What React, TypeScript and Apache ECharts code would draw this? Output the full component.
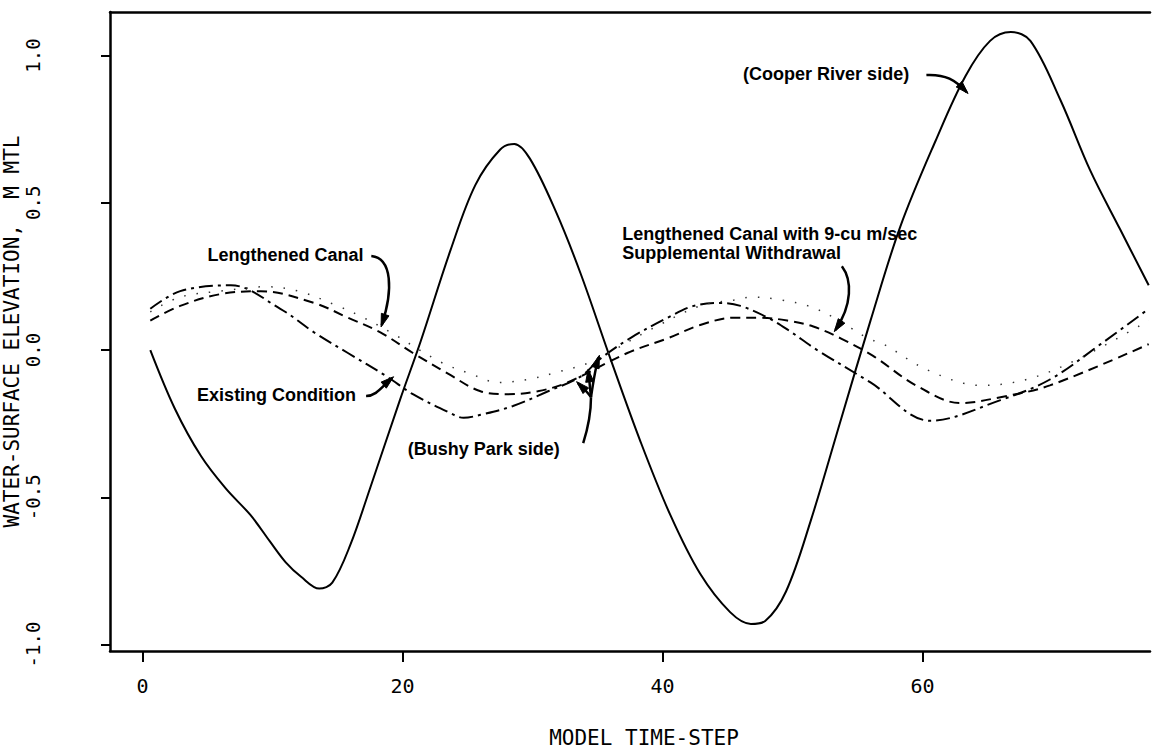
import React, { useEffect, useRef } from "react";
import * as echarts from "echarts";

// ---- data (model time-step, water-surface elevation m MTL) ----
const xTickValues = [0, 20, 40, 60];
const yTickValues = [-1, -0.5, 0, 0.5, 1];

const cooperRiverSide: number[][] = [
  [0.6, 0.0], [2.5, -0.2], [4.5, -0.36], [6.4, -0.47], [8.3, -0.56], [9.8, -0.65],
  [11, -0.72], [12.2, -0.77], [13.6, -0.81], [14.6, -0.79], [16, -0.66], [17.5, -0.47], [19.8, -0.17],
  [21.4, 0.03], [23.7, 0.34], [25.6, 0.56], [27.5, 0.68], [28.6, 0.7], [29.8, 0.65],
  [31.8, 0.47], [33.7, 0.26], [36, -0.03], [38.3, -0.31], [40.6, -0.56], [42.9, -0.76],
  [45.2, -0.89], [46.8, -0.93], [47.9, -0.92], [49.5, -0.82], [51.4, -0.58], [53.7, -0.24],
  [56, 0.1], [58.3, 0.42], [61, 0.71], [63.3, 0.93], [65.2, 1.05], [66.8, 1.08],
  [68.3, 1.05], [70.6, 0.85], [72.9, 0.61], [75.2, 0.41], [77.4, 0.22],
];

const existingCondition: number[][] = [
  [0.6, 0.14], [2.9, 0.2], [6.8, 0.22], [10.6, 0.14], [13.2, 0.06], [15.8, -0.01],
  [18.8, -0.09], [20.8, -0.15], [23.5, -0.21], [24.7, -0.23], [26, -0.22], [28.5, -0.19],
  [31.2, -0.14], [33.7, -0.09], [35.2, -0.03], [37.5, 0.04], [40.4, 0.11], [42.4, 0.15],
  [44.5, 0.16], [46, 0.15], [48.1, 0.11], [49.6, 0.07], [51.9, 0.0], [56, -0.11],
  [60.6, -0.24], [66, -0.17], [69.8, -0.1], [73.7, 0.02], [77.4, 0.14],
];

const lengthenedCanal: number[][] = [
  [0.6, 0.1], [2.9, 0.15], [6, 0.19], [9.1, 0.2], [13.2, 0.16], [15.8, 0.11],
  [18.3, 0.06], [20.8, -0.01], [23.5, -0.08], [26, -0.14], [28.1, -0.15], [30.4, -0.14],
  [32.7, -0.11], [37.3, -0.01], [40.4, 0.04], [42.9, 0.085], [45.5, 0.11], [47.5, 0.11],
  [49.6, 0.1], [51.6, 0.08], [53.7, 0.04], [56.2, -0.02], [59.5, -0.12], [62.9, -0.18],
  [66, -0.16], [69.8, -0.12], [77.4, 0.02],
];

const withSupplementalWithdrawal: number[][] = [
  [0.6, 0.13], [2.9, 0.18], [6, 0.2], [9.5, 0.215], [12, 0.2], [15, 0.15],
  [17, 0.11], [19.1, 0.06], [22.9, -0.04], [25.2, -0.08], [27.4, -0.11], [29.6, -0.1],
  [31.9, -0.075], [34.5, -0.04], [39.1, 0.07], [42.9, 0.15], [45.5, 0.17], [47, 0.18],
  [49.1, 0.17], [51.2, 0.15], [53.2, 0.11], [55.8, 0.04], [57, 0.02], [60.5, -0.07],
  [64.5, -0.12], [68, -0.1], [72, -0.03], [77.4, 0.1],
];

// annotation labels, anchored in data coordinates [t, value]
const annotationTexts = [
  { text: "Lengthened Canal", at: [5.0, 0.323] },
  { text: "Existing Condition", at: [4.2, -0.153] },
  { text: "(Bushy Park side)", at: [20.4, -0.336] },
  { text: "Lengthened Canal with 9-cu m/sec\nSupplemental Withdrawal", at: [36.9, 0.362] },
  { text: "(Cooper River side)", at: [46.2, 0.937] },
];

// arrows: cubic bezier [start, cp1, cp2, end] in data coordinates, head = arrowhead at end
const annotationArrows = [
  { pts: [[17.6, 0.319], [19.2, 0.312], [19.3, 0.204], [18.4, 0.085]], head: true },
  { pts: [[17.2, -0.156], [18.0, -0.156], [18.4, -0.125], [19.2, -0.095]], head: true },
  { pts: [[33.9, -0.316], [34.3, -0.26], [34.5, -0.2], [34.5, -0.16]], head: false },
  { pts: [[34.5, -0.16], [34.2, -0.14], [33.8, -0.125], [33.5, -0.112]], head: true },
  { pts: [[34.5, -0.16], [34.4, -0.12], [34.35, -0.09], [34.3, -0.071]], head: true },
  { pts: [[34.5, -0.16], [34.7, -0.1], [34.9, -0.05], [35.1, -0.024]], head: true },
  { pts: [[53.8, 0.285], [54.6, 0.238], [54.6, 0.153], [53.3, 0.068]], head: true },
  { pts: [[60.3, 0.934], [61.8, 0.937], [62.5, 0.917], [63.4, 0.876]], head: true },
];

const monoFont = "'DejaVu Sans Mono', monospace";
const boldFont = "'Liberation Sans', Arial, sans-serif";

export default function App() {
  const ref = useRef<HTMLDivElement>(null);

  useEffect(() => {
    if (!ref.current) return;
    const chart = echarts.init(ref.current, null, { renderer: "svg" });

    const lineSeries = (name: string, data: number[][], type: any, width: number, color = "#000") => ({
      name,
      type: "line",
      data,
      showSymbol: false,
      symbol: "none",
      smooth: 0.35,
      lineStyle: { color, width, type },
      z: 3,
    });

    chart.setOption({
      animation: false,
      backgroundColor: "#fff",
      grid: { left: 110, right: 3, top: 12, bottom: 102, outerBoundsMode: "none" },
      xAxis: [
        {
          type: "value",
          min: -2.5,
          max: 77.5,
          name: "MODEL TIME-STEP",
          nameLocation: "middle",
          nameGap: 76,
          nameMoveOverlap: false,
          nameTextStyle: { fontFamily: monoFont, fontSize: 21, color: "#000", padding: [0, 0, 0, 28] },
          axisLine: { show: true, onZero: false, lineStyle: { color: "#000", width: 2.5 } },
          axisTick: { show: true, inside: false, length: 11, customValues: xTickValues, lineStyle: { color: "#000", width: 2 } },
          axisLabel: { customValues: xTickValues, margin: 25, fontFamily: monoFont, fontSize: 20, color: "#000" },
          splitLine: { show: false },
        },
        {
          type: "value",
          position: "top",
          min: -2.5,
          max: 77.5,
          axisLine: { show: true, onZero: false, lineStyle: { color: "#000", width: 2.5 } },
          axisTick: { show: false },
          axisLabel: { show: false },
          splitLine: { show: false },
        },
      ],
      yAxis: {
        type: "value",
        min: -1.022,
        max: 1.148,
        name: "WATER-SURFACE ELEVATION,  M MTL",
        nameLocation: "middle",
        nameGap: 88,
        nameMoveOverlap: false,
        nameTextStyle: { fontFamily: monoFont, fontSize: 21, color: "#000" },
        axisLine: { show: true, onZero: false, lineStyle: { color: "#000", width: 2.5 } },
        axisTick: { show: true, inside: false, length: 9, customValues: yTickValues, lineStyle: { color: "#000", width: 2 } },
        axisLabel: {
          customValues: yTickValues,
          rotate: 90,
          margin: 68,
          fontFamily: monoFont,
          fontSize: 19,
          color: "#000",
          formatter: (v: number) => v.toFixed(1),
        },
        splitLine: { show: false },
      },
      series: [
        lineSeries("(Cooper River side)", cooperRiverSide, "solid", 2),
        lineSeries("Existing Condition", existingCondition, [14, 5, 3, 5], 2),
        lineSeries("Lengthened Canal", lengthenedCanal, [10, 6], 2),
        lineSeries("Lengthened Canal with 9-cu m/sec Supplemental Withdrawal", withSupplementalWithdrawal, [1.5, 11], 1.5, "#333"),
      ],
    });

    const P = (d: number[]) => chart.convertToPixel({ gridIndex: 0 }, d) as number[];
    const elements: any[] = [];
    annotationTexts.forEach((a) => {
      const [x, y] = P(a.at);
      elements.push({
        type: "text",
        x,
        y,
        style: {
          text: a.text,
          fill: "#000",
          font: `bold 18px ${boldFont}`,
          align: "left",
          verticalAlign: "middle",
          lineHeight: 19,
        },
        z: 10,
      });
    });
    annotationArrows.forEach((a) => {
      const [s, c1, c2, e] = a.pts.map(P);
      elements.push({
        type: "bezierCurve",
        shape: { x1: s[0], y1: s[1], cpx1: c1[0], cpy1: c1[1], cpx2: c2[0], cpy2: c2[1], x2: e[0], y2: e[1] },
        style: { stroke: "#000", lineWidth: 2.5, fill: null },
        z: 10,
      });
      if (a.head) {
        let dx = e[0] - c2[0];
        let dy = e[1] - c2[1];
        const len = Math.hypot(dx, dy) || 1;
        dx /= len;
        dy /= len;
        const L = 11;
        const W = 4;
        const bx = e[0] - dx * L;
        const by = e[1] - dy * L;
        elements.push({
          type: "polygon",
          shape: {
            points: [
              [e[0] + dx * 2, e[1] + dy * 2],
              [bx - dy * W, by + dx * W],
              [bx + dy * W, by - dx * W],
            ],
          },
          style: { fill: "#000", stroke: "#000", lineWidth: 1 },
          z: 10,
        });
      }
    });
    chart.setOption({ graphic: elements });

    return () => chart.dispose();
  }, []);

  return (
    <div
      ref={ref}
      style={{ position: "absolute", left: 0, top: 0, width: 1153, height: 753, background: "#fff" }}
    />
  );
}
